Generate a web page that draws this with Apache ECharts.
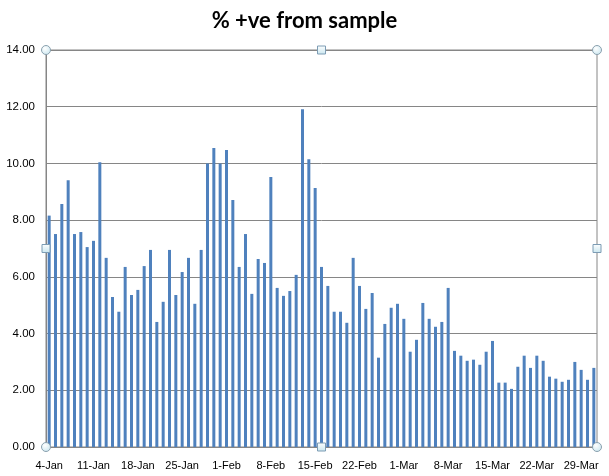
<!DOCTYPE html>
<html>
<head>
<meta charset="utf-8">
<script src="https://cdn.jsdelivr.net/npm/echarts@6/dist/echarts.min.js"></script>
<style>html,body{margin:0;padding:0;background:#fff}#c{width:609px;height:476px}</style>
</head>
<body>
<div id="c"></div>
<script>
var categories = [
 '4-Jan','5-Jan','6-Jan','7-Jan','8-Jan','9-Jan','10-Jan','11-Jan','12-Jan','13-Jan','14-Jan','15-Jan','16-Jan','17-Jan',
 '18-Jan','19-Jan','20-Jan','21-Jan','22-Jan','23-Jan','24-Jan','25-Jan','26-Jan','27-Jan','28-Jan','29-Jan','30-Jan','31-Jan',
 '1-Feb','2-Feb','3-Feb','4-Feb','5-Feb','6-Feb','7-Feb','8-Feb','9-Feb','10-Feb','11-Feb','12-Feb','13-Feb','14-Feb',
 '15-Feb','16-Feb','17-Feb','18-Feb','19-Feb','20-Feb','21-Feb','22-Feb','23-Feb','24-Feb','25-Feb','26-Feb','27-Feb','28-Feb',
 '1-Mar','2-Mar','3-Mar','4-Mar','5-Mar','6-Mar','7-Mar','8-Mar','9-Mar','10-Mar','11-Mar','12-Mar','13-Mar','14-Mar',
 '15-Mar','16-Mar','17-Mar','18-Mar','19-Mar','20-Mar','21-Mar','22-Mar','23-Mar','24-Mar','25-Mar','26-Mar','27-Mar','28-Mar',
 '29-Mar','30-Mar','31-Mar'
];
var positivePct = [
 8.16,7.51,8.57,9.41,7.51,7.58,7.05,7.27,10.04,6.67,5.29,4.77,6.35,5.36,
 5.54,6.38,6.95,4.41,5.12,6.95,5.36,6.17,6.67,5.05,6.95,10.00,10.54,10.00,
 10.47,8.71,6.35,7.51,5.40,6.63,6.49,9.52,5.61,5.33,5.50,6.07,11.91,10.15,
 9.13,6.35,5.68,4.77,4.77,4.38,6.67,5.68,4.87,5.43,3.15,4.34,4.91,5.05,
 4.52,3.36,3.78,5.08,4.52,4.24,4.41,5.61,3.39,3.22,3.04,3.08,2.90,3.36,
 3.74,2.27,2.27,2.05,2.83,3.22,2.79,3.22,3.04,2.48,2.41,2.30,2.37,3.00,
 2.72,2.37,2.79
];
var yTicks = {min: 0, max: 14, interval: 2};

var chart = echarts.init(document.getElementById('c'), null, {renderer: 'canvas'});
var G = {left: 46, right: 12, top: 50, bottom: 29};
var W = 609, H = 476;
var x0 = G.left, x1 = W - G.right, y0 = G.top, y1 = H - G.bottom;
var xm = (x0 + x1) / 2, ym = (y0 + y1) / 2;
function circ(cx, cy) {
  return {type: 'circle', shape: {cx: cx, cy: cy, r: 4.5}, z: 100,
    style: {fill: {type:'radial', x:0.4, y:0.35, r:0.7, colorStops:[{offset:0,color:'#ffffff'},{offset:1,color:'#c9e6ef'}]}, stroke: '#8aa0ae', lineWidth: 1}};
}
function sq(cx, cy) {
  return {type: 'rect', shape: {x: cx - 4, y: cy - 4, width: 8, height: 8}, z: 100,
    style: {fill: {type:'linear', x:0, y:0, x2:0, y2:1, colorStops:[{offset:0,color:'#ffffff'},{offset:1,color:'#c9e6ef'}]}, stroke: '#7d9cb4', lineWidth: 1}};
}
chart.setOption({
  animation: false,
  title: {
    text: '% +ve from sample', left: 'center', top: 5,
    textStyle: {fontFamily: 'Lato', fontWeight: 'bold', fontSize: 22, color: '#000'}
  },
  grid: {left: G.left, right: G.right, top: G.top, bottom: G.bottom, show: true, borderColor: '#868686', borderWidth: 1},
  xAxis: {
    type: 'category', data: categories,
    axisLine: {lineStyle: {color: '#868686'}},
    axisTick: {show: false},
    axisLabel: {interval: 6, margin: 13, fontFamily: 'Liberation Sans', fontSize: 11, color: '#000'}
  },
  yAxis: {
    type: 'value', min: yTicks.min, max: yTicks.max, interval: yTicks.interval,
    axisLine: {show: true, lineStyle: {color: '#868686'}},
    axisTick: {show: false},
    splitLine: {lineStyle: {color: '#868686', width: 1}},
    axisLabel: {margin: 11, fontFamily: 'Liberation Sans', fontSize: 11.5, color: '#000',
      formatter: function (v) { return v.toFixed(2); }}
  },
  series: [{
    type: 'bar', data: positivePct, barWidth: 3,
    itemStyle: {color: '#4F81BD'}
  }],
  graphic: [circ(x0, y0), circ(x1, y0), circ(x0, y1), circ(x1, y1),
            sq(xm, y0), sq(xm, y1), sq(x0, ym), sq(x1, ym)]
});
</script>
</body>
</html>
